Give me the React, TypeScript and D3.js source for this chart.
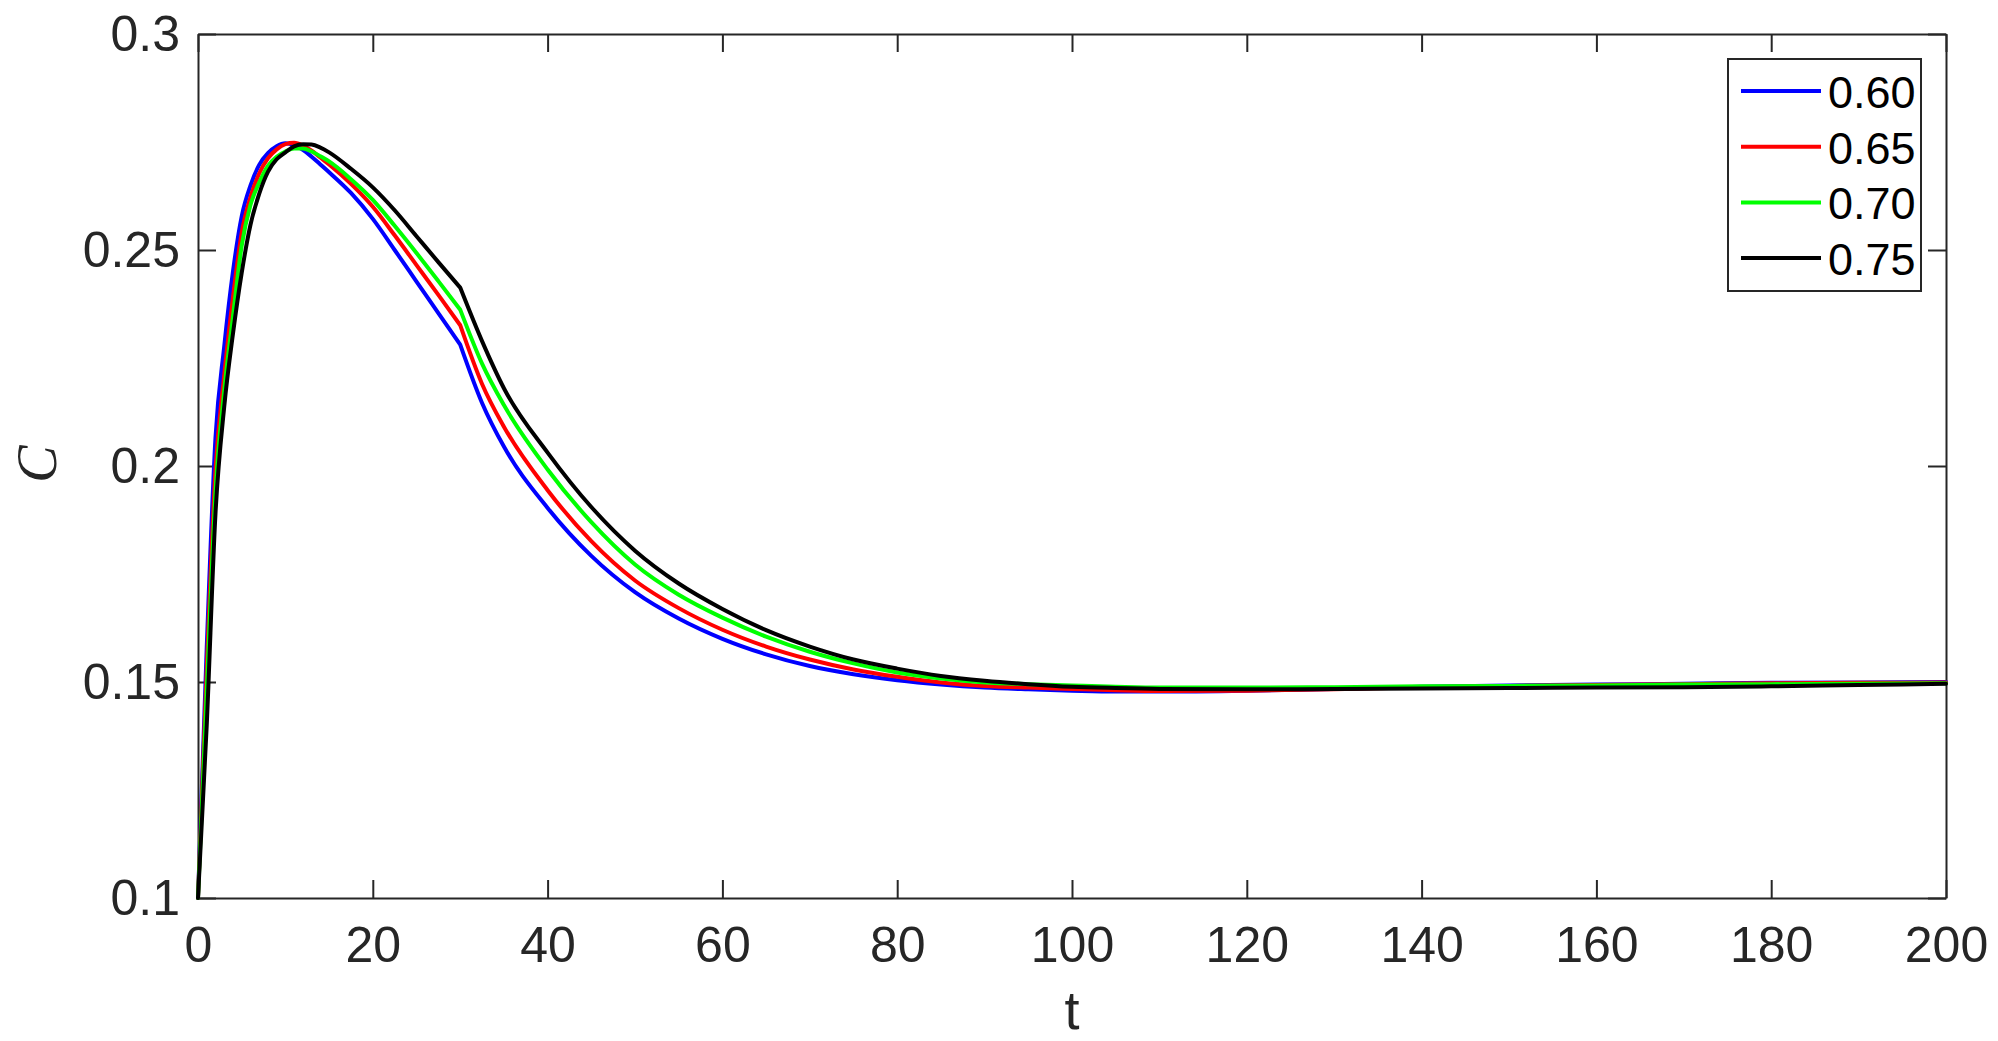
import React, { useEffect, useRef } from 'react';
import * as d3 from 'd3';

// time samples (t) shared by all series
const tValues = [0, 1, 2, 3, 4, 5, 6, 7, 8, 9, 10, 11, 12, 13, 14, 15, 17.5, 20, 22.5, 25, 27.5, 30, 32.5, 35, 40, 45, 50, 55, 60, 65, 70, 75, 80, 85, 90, 95, 100, 105, 110, 120, 130, 140, 150, 160, 170, 180, 190, 200];

const c060 = [0.1, 0.158, 0.2065, 0.2277, 0.245, 0.2578, 0.2649, 0.2697, 0.2724, 0.274, 0.2747, 0.2743, 0.2732, 0.2716, 0.2698, 0.268, 0.2632, 0.2572, 0.25, 0.2427, 0.2354, 0.2281, 0.2146, 0.2045, 0.1903, 0.1792, 0.1708, 0.1647, 0.16, 0.1564, 0.1537, 0.1518, 0.1504, 0.1494, 0.1487, 0.1483, 0.148, 0.1478, 0.1478, 0.148, 0.1484, 0.1489, 0.1492, 0.1494, 0.1496, 0.1498, 0.1499, 0.15];
const c065 = [0.1, 0.153, 0.199, 0.221, 0.239, 0.254, 0.2622, 0.2677, 0.2712, 0.2733, 0.2745, 0.2748, 0.2742, 0.273, 0.2714, 0.2698, 0.2653, 0.26, 0.2534, 0.2465, 0.2396, 0.2326, 0.219, 0.2091, 0.1944, 0.1826, 0.1735, 0.1671, 0.1621, 0.1582, 0.1552, 0.1529, 0.1512, 0.1499, 0.1491, 0.1487, 0.1484, 0.1481, 0.1479, 0.148, 0.1483, 0.1488, 0.1491, 0.1493, 0.1495, 0.1497, 0.1498, 0.1499];
const c070 = [0.1, 0.148, 0.194, 0.2174, 0.2346, 0.251, 0.2604, 0.2656, 0.2695, 0.2716, 0.2728, 0.2735, 0.2735, 0.2728, 0.2717, 0.2705, 0.2664, 0.2616, 0.2556, 0.2493, 0.2428, 0.2362, 0.2237, 0.2141, 0.1992, 0.187, 0.1772, 0.1702, 0.1649, 0.1605, 0.157, 0.1543, 0.1522, 0.1508, 0.1499, 0.1495, 0.1492, 0.1489, 0.1487, 0.1487, 0.1488, 0.149, 0.1491, 0.1492, 0.1494, 0.1495, 0.1496, 0.1497];
const c075 = [0.1, 0.14, 0.189, 0.2137, 0.2306, 0.2447, 0.2558, 0.263, 0.2681, 0.271, 0.2726, 0.274, 0.2745, 0.2744, 0.2737, 0.2726, 0.2688, 0.2645, 0.2592, 0.2532, 0.2472, 0.2413, 0.2289, 0.218, 0.2031, 0.1905, 0.1804, 0.1728, 0.1669, 0.162, 0.1582, 0.1552, 0.1531, 0.1514, 0.1503, 0.1495, 0.1489, 0.1486, 0.1484, 0.1483, 0.1484, 0.1485, 0.1486, 0.1487, 0.1488, 0.149, 0.1493, 0.1496];

const seriesNames = ['0.60', '0.65', '0.70', '0.75'];
const seriesColors = ['#0000ff', '#ff0000', '#00ff00', '#000000'];

const xTicks = [0, 20, 40, 60, 80, 100, 120, 140, 160, 180, 200];
const yTicks = [0.1, 0.15, 0.2, 0.25, 0.3];

// the curves have a corner where the forcing switches off
const tBreak = 30;

const W = 1998;
const H = 1041;

const App = () => {
  const ref = useRef<SVGSVGElement>(null);

  useEffect(() => {
    const margin = { top: 34, right: 52, bottom: 143, left: 198 };
    const width = W - margin.left - margin.right;
    const height = H - margin.top - margin.bottom;
    const axisColor = '#262626';
    const font = '"Liberation Sans", Arial, Helvetica, sans-serif';

    const svg = d3.select(ref.current);
    svg.selectAll('*').remove();

    const g = svg.append('g').attr('transform', `translate(${margin.left},${margin.top})`);

    const x = d3.scaleLinear().domain([0, 200]).range([0, width]);
    const y = d3.scaleLinear().domain([0.1, 0.3]).range([height, 0]);

    const styleAxis = (sel) => {
      sel.select('.domain').attr('stroke', axisColor).attr('stroke-width', 2);
      sel.selectAll('.tick line').attr('stroke', axisColor).attr('stroke-width', 2);
      sel.selectAll('.tick text').attr('fill', axisColor).style('font-family', font).style('font-size', '50px');
    };

    g.append('g')
      .attr('transform', `translate(0,${height})`)
      .call(d3.axisBottom(x).tickValues(xTicks).tickSizeInner(-18).tickSizeOuter(0).tickPadding(28))
      .call(styleAxis);
    g.append('g')
      .call(d3.axisTop(x).tickValues(xTicks).tickSizeInner(-18).tickSizeOuter(0).tickFormat(() => ''))
      .call(styleAxis);
    g.append('g')
      .call(d3.axisLeft(y).tickValues(yTicks).tickSizeInner(-18).tickSizeOuter(0).tickPadding(18).tickFormat((d) => String(d)))
      .call(styleAxis);
    g.append('g')
      .attr('transform', `translate(${width},0)`)
      .call(d3.axisRight(y).tickValues(yTicks).tickSizeInner(-18).tickSizeOuter(0).tickFormat(() => ''))
      .call(styleAxis);

    const series = [c060, c065, c070, c075];
    const line = d3
      .line<[number, number]>()
      .x((d) => x(d[0]))
      .y((d) => y(d[1]))
      .curve(d3.curveMonotoneX);

    series.forEach((vals, i) => {
      const pts: [number, number][] = vals.map((v, j) => [tValues[j], v]);
      const before = pts.filter((p) => p[0] <= tBreak);
      const after = pts.filter((p) => p[0] >= tBreak);
      g.append('path')
        .attr('fill', 'none')
        .attr('stroke', seriesColors[i])
        .attr('stroke-width', 4)
        .attr('stroke-linejoin', 'round')
        .attr('stroke-linecap', 'round')
        .attr('d', (line(before) || '') + (line(after) || ''));
    });

    // axis labels
    svg.append('text')
      .attr('x', margin.left + width / 2)
      .attr('y', 1029)
      .attr('text-anchor', 'middle')
      .attr('fill', axisColor)
      .style('font-family', font)
      .style('font-size', '54px')
      .text('t');

    svg.append('text')
      .attr('transform', 'translate(56,464) rotate(-90)')
      .attr('text-anchor', 'middle')
      .attr('fill', axisColor)
      .style('font-family', '"Liberation Serif", "Times New Roman", serif')
      .style('font-style', 'italic')
      .style('font-size', '56px')
      .text('C');

    // legend
    const legend = svg.append('g').attr('transform', 'translate(1728,59)');
    legend.append('rect')
      .attr('width', 193)
      .attr('height', 232)
      .attr('fill', '#ffffff')
      .attr('stroke', axisColor)
      .attr('stroke-width', 2);

    seriesNames.forEach((name, i) => {
      const ly = 32 + i * 55.7;
      legend.append('line')
        .attr('x1', 13)
        .attr('x2', 93)
        .attr('y1', ly)
        .attr('y2', ly)
        .attr('stroke', seriesColors[i])
        .attr('stroke-width', 4);
      legend.append('text')
        .attr('x', 100)
        .attr('y', ly + 17)
        .attr('fill', '#000000')
        .style('font-family', font)
        .style('font-size', '45px')
        .text(name);
    });
  }, []);

  return (
    <svg
      ref={ref}
      width={W}
      height={H}
      style={{ position: 'absolute', left: 0, top: 0, background: '#ffffff' }}
    ></svg>
  );
};

export default App;
